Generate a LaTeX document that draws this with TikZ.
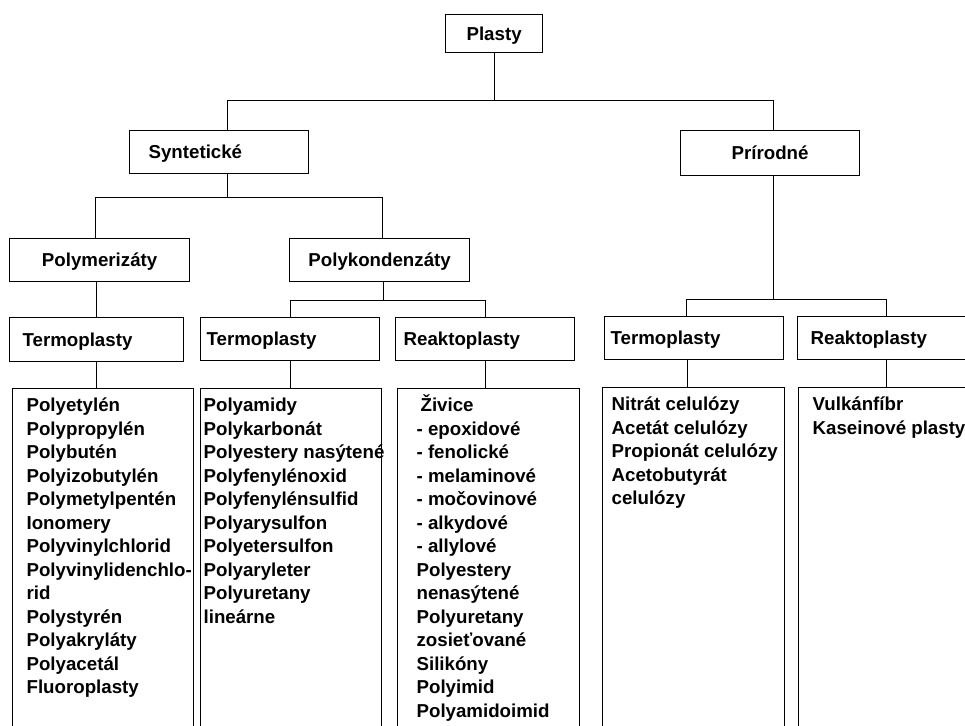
\documentclass[tikz,border=0pt]{standalone}
\usepackage{fontspec}
\setmainfont{Liberation Sans}
\usetikzlibrary{calc}

\begin{document}
\begin{tikzpicture}[x=1pt, y=-1pt, line width=1.2pt,
    txt/.style={font=\fontsize{18.7}{23.5}\selectfont\bfseries},
    head/.style={draw, txt, anchor=north west, inner ysep=0pt, inner xsep=0pt,
      text height=13.4pt, text depth=0pt, minimum width=#1},
    headl/.style 2 args={draw, txt, anchor=north west, inner ysep=0pt, inner xsep=#1,
      text height=13.4pt, text depth=0pt, text width=#2, align=left},
    listbox/.style={draw, anchor=north west, inner sep=0pt, minimum height=400, minimum width=#1},
    entry/.style={txt, anchor=base west, inner sep=0pt}]
  \useasboundingbox (0,0) rectangle (965,725);
  \clip (0,0) rectangle (965,725);

  % top levels
  \node[head=97, minimum height=38] (plasty) at (445,14) {Plasty};
  \node[headl={19pt}{141pt}, minimum height=43] (synt) at (129,130) {Syntetické};
  \node[head=179, minimum height=45] (prir) at (680,130) {Prírodné};
  \node[head=180, minimum height=43] (polym) at (9,238) {Polymerizáty};
  \node[head=180, minimum height=43] (polyk) at (289,238) {Polykondenzáty};

  % groups
  \node[headl={13pt}{148pt}, minimum height=44] (termoS) at (9,317) {Termoplasty};
  \node[headl={6pt}{167pt}, minimum height=43] (termoK) at (200,317) {Termoplasty};
  \node[headl={8pt}{163pt}, minimum height=43] (reaktoK) at (395,317) {Reaktoplasty};
  \node[headl={6pt}{167pt}, minimum height=43] (termoP) at (604,316) {Termoplasty};
  \node[headl={13pt}{151pt}, minimum height=43] (reaktoP) at (797,316) {Reaktoplasty};

  % lists
  \node[listbox=181] (zoznamS) at (12,388) {};
  \node[listbox=181] (zoznamK) at (200,388) {};
  \node[listbox=182] (zoznamR) at (397,388) {};
  \node[listbox=182] (zoznamTP) at (602,387) {};
  \node[listbox=176] (zoznamRP) at (798,387) {};

  \foreach \t [count=\i] in {Polyetylén, Polypropylén, Polybutén, Polyizobutylén,
      Polymetylpentén, Ionomery, Polyvinylchlorid, Polyvinylidenchlo-, rid,
      Polystyrén, Polyakryláty, Polyacetál, Fluoroplasty}
    \node[entry] (s\i) at ($(zoznamS.north west)+(14,23.5*\i)$) {\t};
  \foreach \t [count=\i] in {Polyamidy, Polykarbonát, Polyestery nasýtené,
      Polyfenylénoxid, Polyfenylénsulfid, Polyarysulfon, Polyetersulfon,
      Polyaryleter, Polyuretany, lineárne}
    \node[entry] (k\i) at ($(zoznamK.north west)+(3,23.5*\i)$) {\t};
  \foreach \t [count=\i] in {\kern4pt Živice, - epoxidové, - fenolické, - melaminové,
      - močovinové, - alkydové, - allylové, Polyestery, nenasýtené, Polyuretany,
      zosieťované, Silikóny, Polyimid, Polyamidoimid}
    \node[entry] (r\i) at ($(zoznamR.north west)+(19,23.5*\i)$) {\t};
  \foreach \t [count=\i] in {Nitrát celulózy, Acetát celulózy, Propionát celulózy,
      Acetobutyrát, celulózy}
    \node[entry] (tp\i) at ($(zoznamTP.north west)+(9,23.5*\i)$) {\t};
  \foreach \t [count=\i] in {Vulkánfíbr, Kaseinové plasty}
    \node[entry] (rp\i) at ($(zoznamRP.north west)+(14,23.5*\i)$) {\t};

  % connectors
  \coordinate (j1) at ($(plasty.south)+(0,47)$);
  \draw (plasty.south) -- (j1);
  \draw ([xshift=8pt]synt.north) |- (j1) -| ([xshift=3.5pt]prir.north);

  \coordinate (j2) at ($([xshift=8pt]synt.south)+(0,23)$);
  \draw ([xshift=8pt]synt.south) -- (j2);
  \draw ([xshift=-4pt]polym.north) |- (j2) -| ([xshift=3pt]polyk.north);

  \coordinate (j3) at ($([xshift=4pt]polyk.south)+(0,18)$);
  \draw ([xshift=4pt]polyk.south) -- (j3);
  \draw (termoK.north) |- (j3) -| (reaktoK.north);
  \draw (termoS.north) -- (termoS.north |- polym.south);

  \coordinate (j4) at ($([xshift=3.5pt]prir.south)+(0,123)$);
  \draw ([xshift=3.5pt]prir.south) -- (j4);
  \draw ([xshift=-7.5pt]termoP.north) |- (j4) -| (reaktoP.north);

  \draw (termoS.south) -- (termoS.south |- zoznamS.north);
  \draw (termoK.south) -- (termoK.south |- zoznamK.north);
  \draw (reaktoK.south) -- (reaktoK.south |- zoznamR.north);
  \draw ([xshift=-7pt]termoP.south) -- ([xshift=-7pt]termoP.south |- zoznamTP.north);
  \draw (reaktoP.south) -- (reaktoP.south |- zoznamRP.north);
\end{tikzpicture}
\end{document}
